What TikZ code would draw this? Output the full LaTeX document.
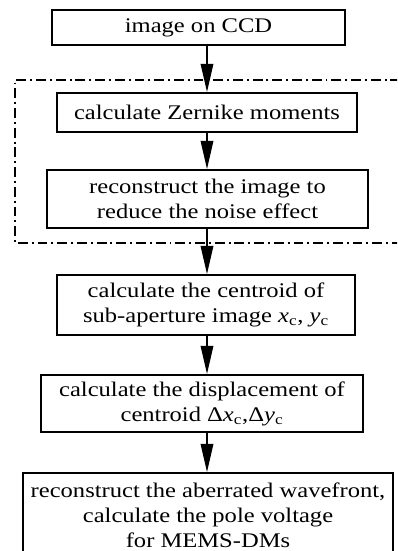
\documentclass[tikz,border=0pt]{standalone}
\usepackage{fontspec}
\setmainfont{Liberation Serif}[FakeStretch=1.18]
\usetikzlibrary{arrows.meta}

\begin{document}
\begin{tikzpicture}[x=0.025cm, y=-0.025cm,
  font=\fontsize{14.8}{17.8}\selectfont,
  stepbox/.style={draw, line width=1.4pt, align=center, inner sep=0pt},
  flow/.style={line width=0.9pt, -{Triangle[length=20pt, width=9pt]}},
  dashdot/.style={line width=1.6pt, dash pattern=on 7pt off 2.8pt on 1.4pt off 2.8pt}]
  \useasboundingbox (0,0) rectangle (397,551);
  \clip (0,0) rectangle (397,551);

  \node[stepbox, minimum width=7.33cm, minimum height=0.88cm] (ccd) at (198.5,27.5) {image on CCD};
  \node[stepbox, minimum width=7.5cm, minimum height=0.98cm] (zernike) at (207,112.5) {calculate Zernike moments};
  \node[stepbox, minimum width=8.03cm, minimum height=1.45cm] (denoise) at (207.5,199) {reconstruct the image to\\reduce the noise effect};
  \node[stepbox, minimum width=7.45cm, minimum height=1.5cm] (centroid) at (206,305) {calculate the centroid of\\sub-aperture image \textit{x}\textsubscript{c}, \textit{y}\textsubscript{c}};
  \node[stepbox, minimum width=8.05cm, minimum height=1.43cm] (shift) at (202,403.5) {calculate the displacement of\\centroid Δ\textit{x}\textsubscript{c},Δ\textit{y}\textsubscript{c}};
  \node[stepbox, minimum width=9.25cm, minimum height=2.1cm] (wavefront) at (208,515) {reconstruct the aberrated wavefront,\\calculate the pole voltage\\for MEMS-DMs};

  % denoising block
  \draw[dashdot] (420,80) -- (15,80) -- (15,243) -- (420,243);

  \coordinate (axis) at (207,0);
  \draw[flow] (axis |- ccd.south) -- (axis |- zernike.north);
  \draw[flow] (axis |- zernike.south) -- (axis |- denoise.north);
  \draw[flow] (axis |- denoise.south) -- (axis |- centroid.north);
  \draw[flow] (axis |- centroid.south) -- (axis |- shift.north);
  \draw[flow] (axis |- shift.south) -- (axis |- wavefront.north);
\end{tikzpicture}
\end{document}
